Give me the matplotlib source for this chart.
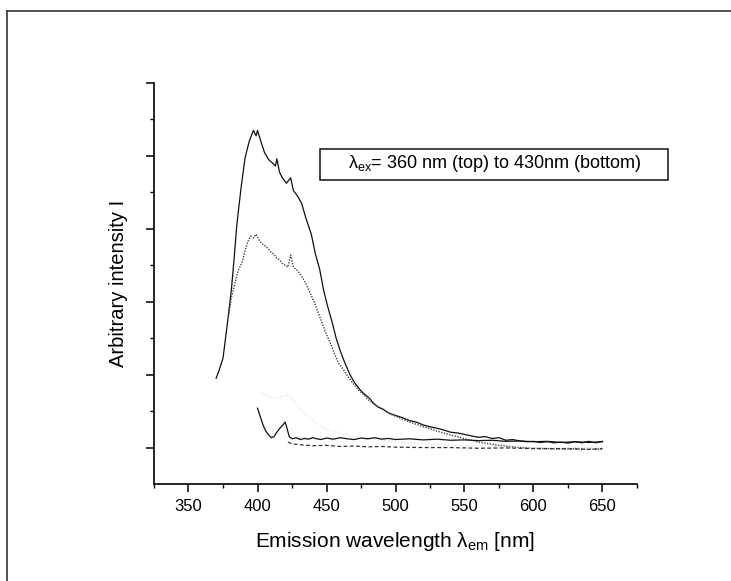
import matplotlib
matplotlib.use('Agg')
import matplotlib.pyplot as plt
from matplotlib.lines import Line2D
from matplotlib.patches import Rectangle
from matplotlib.ticker import MultipleLocator, NullFormatter

plt.rcParams['font.family'] = ['Liberation Sans', 'DejaVu Sans']
plt.rcParams['mathtext.fontset'] = 'custom'
plt.rcParams['mathtext.rm'] = 'Liberation Sans'
plt.rcParams['mathtext.it'] = 'Liberation Sans'

# excitation 360 nm (top curve)
wl_1 = [370, 372, 375, 378, 381, 383, 385, 388, 391, 394, 397, 399, 400, 402, 405,
        408, 411, 413, 414, 416, 418, 421, 424, 426, 429, 432, 435, 439, 442, 445,
        448, 451, 454, 457, 460, 463, 467, 470, 474, 477, 481, 484, 487, 491, 495,
        500, 505, 510, 515, 520, 525, 530, 535, 540, 545, 550, 555, 560, 565, 570,
        575, 580, 585, 590, 595, 600, 605, 610, 615, 620, 625, 630, 635, 640, 645, 650]
int_1 = [2.90, 3.10, 3.45, 4.35, 5.30, 6.15, 7.10, 8.10, 8.95, 9.40, 9.70, 9.55, 9.70, 9.45, 9.10,
         8.90, 8.80, 8.72, 8.92, 8.55, 8.40, 8.25, 8.40, 8.05, 7.90, 7.70, 7.30, 6.85, 6.30, 5.90,
         5.30, 4.85, 4.45, 4.00, 3.65, 3.35, 3.00, 2.80, 2.60, 2.48, 2.36, 2.22, 2.12, 2.05, 1.95,
         1.88, 1.82, 1.74, 1.70, 1.62, 1.57, 1.53, 1.48, 1.42, 1.40, 1.36, 1.32, 1.28, 1.30, 1.25,
         1.27, 1.20, 1.22, 1.18, 1.16, 1.17, 1.14, 1.16, 1.13, 1.15, 1.12, 1.16, 1.13, 1.17, 1.13, 1.17]

# second curve (dotted)
wl_2 = [379, 381, 384, 386, 389, 391, 393, 395, 397, 399, 401, 403, 406, 408, 410,
        412, 414, 416, 418, 420, 422, 424, 426, 429, 432, 435, 438, 441, 444, 447,
        450, 453, 456, 459, 462, 465, 468, 471, 474, 477, 480, 484, 488, 492, 496,
        500, 505, 510, 515, 520, 525, 530, 535, 540, 545, 550, 555, 560, 565, 570,
        575, 580, 585, 590, 595, 600, 610, 620, 630, 640, 650]
int_2 = [4.60, 5.10, 5.55, 5.85, 6.10, 6.40, 6.65, 6.80, 6.75, 6.85, 6.70, 6.60, 6.52, 6.45, 6.35,
         6.30, 6.20, 6.15, 6.05, 6.00, 5.95, 6.28, 5.95, 5.85, 5.70, 5.50, 5.25, 5.00, 4.70, 4.40,
         4.10, 3.85, 3.55, 3.30, 3.15, 2.98, 2.82, 2.68, 2.55, 2.45, 2.32, 2.20, 2.10, 2.02, 1.92,
         1.86, 1.78, 1.70, 1.64, 1.57, 1.52, 1.45, 1.40, 1.34, 1.30, 1.24, 1.20, 1.15, 1.12, 1.09,
         1.06, 1.04, 1.02, 1.00, 0.99, 0.98, 0.97, 0.96, 0.97, 0.95, 0.96]

# third curve (very faint)
wl_3 = [403, 412, 423, 432, 441, 450, 470, 500, 550, 600, 650]
int_3 = [2.50, 2.35, 2.45, 2.00, 1.70, 1.50, 1.30, 1.15, 1.05, 1.00, 1.00]

# fourth curve (solid, low)
wl_4 = [400, 402, 404, 406, 408, 410, 412, 414, 416, 418, 420, 421, 423, 425, 428,
        431, 434, 437, 440, 443, 446, 450, 455, 460, 465, 470, 475, 480, 485, 490,
        495, 500, 510, 520, 530, 540, 550, 560, 570, 580, 590, 600, 610, 620, 630, 640, 650]
int_4 = [2.08, 1.85, 1.62, 1.45, 1.35, 1.27, 1.30, 1.42, 1.52, 1.60, 1.70, 1.58, 1.30, 1.24, 1.27,
         1.22, 1.25, 1.23, 1.27, 1.24, 1.22, 1.26, 1.23, 1.27, 1.24, 1.22, 1.26, 1.24, 1.27, 1.23,
         1.25, 1.22, 1.24, 1.21, 1.23, 1.20, 1.21, 1.19, 1.20, 1.17, 1.18, 1.16, 1.17, 1.14, 1.16, 1.14, 1.16]

# 430 nm (bottom curve, dashed)
wl_5 = [422, 425, 430, 440, 450, 460, 470, 480, 490, 500, 520, 540, 560, 580, 600, 620, 640, 650]
int_5 = [1.15, 1.10, 1.08, 1.05, 1.06, 1.03, 1.04, 1.02, 1.03, 1.01, 1.00, 1.00, 0.98, 0.99, 0.97, 0.97, 0.95, 0.97]

fig = plt.figure(figsize=(7.31, 5.81), dpi=100)
ax = fig.add_axes([154 / 731, 1 - 484 / 581, (637 - 154) / 731, (484 - 83) / 581])

ax.plot(wl_1, int_1, color='#111111', lw=0.9)
ax.plot(wl_2, int_2, color='#444444', lw=1.0, ls=(0, (1, 1)))
ax.plot(wl_3, int_3, color='#d4d4d4', lw=0.8, ls=(0, (1, 2)))
ax.plot(wl_4, int_4, color='#111111', lw=0.9)
ax.plot(wl_5, int_5, color='#333333', lw=0.9, ls=(0, (3, 2)))

ax.set_xlim(325, 675)
ax.set_ylim(0, 11)
ax.xaxis.set_major_locator(MultipleLocator(50))
ax.xaxis.set_minor_locator(MultipleLocator(25))
ax.set_yticks([1, 3, 5, 7, 9, 11])
ax.set_yticks([2, 4, 6, 8, 10], minor=True)
ax.yaxis.set_major_formatter(NullFormatter())
for s in ['top', 'right']:
    ax.spines[s].set_visible(False)
for s in ['left', 'bottom']:
    ax.spines[s].set_linewidth(1.2)
ax.tick_params(which='major', direction='out', length=6, width=1.1, labelsize=12, pad=5)
ax.tick_params(which='minor', direction='out', length=3, width=1.0)

ax.set_xlabel(r'Emission wavelength $\lambda_{\rm em}$ [nm]', fontsize=15, labelpad=11)
ax.set_ylabel('Arbitrary intensity I', fontsize=14.5, labelpad=8)

# legend-like box
fig.patches.append(Rectangle((320 / 731, 1 - 180 / 581), 348 / 731, 31 / 581,
                             transform=fig.transFigure, fill=False, lw=1.1, ec='#111111'))
fig.text(495 / 731, 1 - 164 / 581, r'$\lambda_{\rm ex}$= 360 nm (top) to 430nm (bottom)',
         fontsize=13, ha='center', va='center')

# frame of the scanned page
fig.add_artist(Line2D([7 / 731, 1], [1 - 11 / 581, 1 - 11 / 581], transform=fig.transFigure,
                      color='#333333', lw=1.2))
fig.add_artist(Line2D([7 / 731, 7 / 731], [0, 1 - 11 / 581], transform=fig.transFigure,
                      color='#333333', lw=1.2))

fig.savefig('out.png', dpi=100)
